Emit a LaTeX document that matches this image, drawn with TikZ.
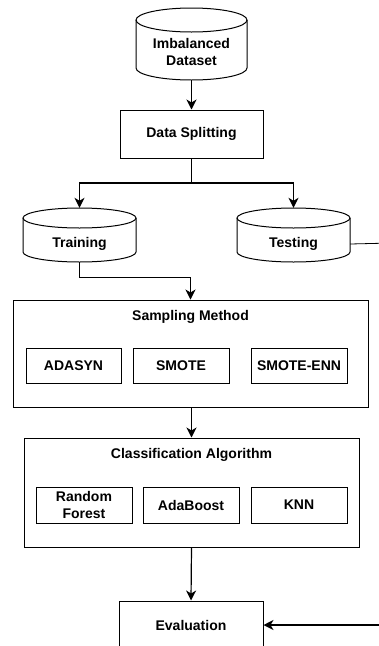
\documentclass[tikz,border=0pt]{standalone}
\usepackage{fontspec}
\setmainfont{Liberation Sans}
\usetikzlibrary{arrows.meta}
\newcommand\drawcyl[5]{%
  \draw[cylline] (#1-#4, #2+#5) -- (#1-#4, #3-#5)
    arc[start angle=180, end angle=360, x radius=#4pt, y radius=#5pt]
    -- (#1+#4, #2+#5);
  \draw[cylline] (#1, #2+#5) ellipse[x radius=#4pt, y radius=#5pt];
}
\begin{document}
\begin{tikzpicture}[x=1pt, y=-1pt,
  txt/.style={font=\bfseries\fontsize{14}{17}\selectfont, align=center, inner sep=0pt},
  box/.style={txt, draw, line width=1pt, rectangle},
  cylline/.style={line width=1pt},
  cylnode/.style={rectangle, draw=none, inner sep=0pt},
  arr/.style={line width=1.2pt, -{Stealth[length=10pt, width=10pt, inset=3pt]}},
  thinarr/.style={line width=0.8pt, -{Stealth[length=10pt, width=10pt, inset=3pt]}},
  thinline/.style={line width=0.8pt}]
\useasboundingbox (0,0) rectangle (379,646);
\clip (0,0) rectangle (379,646);

% Imbalanced dataset cylinder
\drawcyl{191.5}{8}{80}{55.5}{12}
\node[cylnode, minimum width=111pt, minimum height=72pt] (imb) at (191.5,44) {};
\node[txt] (imbtxt) at (191.5,52) {Imbalanced\\Dataset};

% Data splitting
\node[box, minimum width=143pt, minimum height=48pt] (split) at (191.5,134) {Data Splitting};

% Training / Testing cylinders
\drawcyl{79.5}{208}{262}{56.5}{10}
\node[cylnode, minimum width=113pt, minimum height=54pt] (train) at (79.5,235) {};
\node[txt] (traintxt) at (79.5,244) {Training};
\drawcyl{293.5}{208}{262}{56.5}{10}
\node[cylnode, minimum width=113pt, minimum height=54pt] (test) at (293.5,235) {};
\node[txt] (testtxt) at (293.5,244) {Testing};

% Sampling method
\node[box, minimum width=355pt, minimum height=107pt] (samp) at (190.5,353.5) {};
\node[txt] (samptitle) at (190.5,317) {Sampling Method};
\node[box, minimum width=95pt, minimum height=35pt] (adasyn) at (73.5,365.5) {ADASYN};
\node[box, minimum width=96pt, minimum height=35pt] (smote) at (181,365.5) {SMOTE};
\node[box, minimum width=96pt, minimum height=35pt] (smoteenn) at (299,365.5) {SMOTE-ENN};

% Classification algorithm
\node[box, minimum width=335pt, minimum height=109pt] (class) at (191.5,492.5) {};
\node[txt] (classtitle) at (191.5,455) {Classification Algorithm};
\node[box, minimum width=96pt, minimum height=36pt] (rf) at (84,505) {Random\\Forest};
\node[box, minimum width=96pt, minimum height=36pt] (ada) at (191,505) {AdaBoost};
\node[box, minimum width=96pt, minimum height=36pt] (knn) at (299,505) {KNN};

% Evaluation
\node[box, minimum width=144pt, minimum height=48pt] (eval) at (191,625) {Evaluation};

% Connectors
\draw[arr] (imb.south) -- (split.north);
\coordinate (junc) at (191.5,183);
\draw[line width=1.2pt] (split.south) -- (junc);
\draw[arr] (junc) -| (train.north);
\draw[arr] (junc) -| (test.north);
\coordinate (tr1) at (79.5,277);
\draw[thinarr] (train.south) -- (tr1) -| (samp.north);
\draw[arr] (class.north |- samp.south) -- (class.north);
\draw[arr] (class.south) -- (eval.north);
\coordinate (te1) at (392,243);
\coordinate (te2) at (392,625);
\draw[thinline] (test.east |- testtxt) -- (te1) -- (te2);
\draw[arr] (te2) -- (eval.east);
\end{tikzpicture}
\end{document}
